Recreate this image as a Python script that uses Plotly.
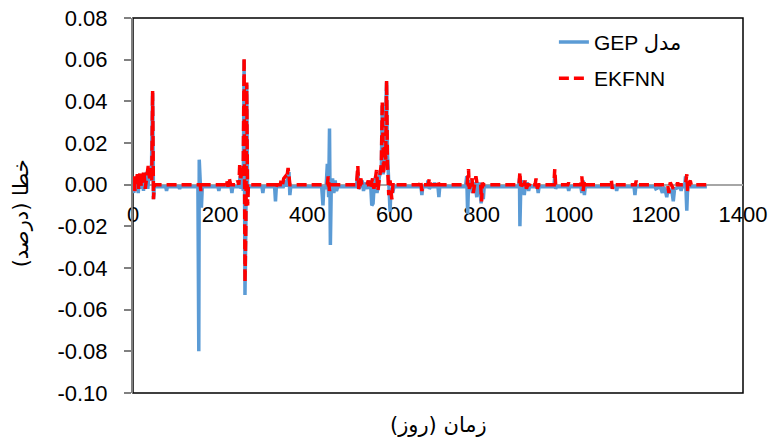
import plotly.graph_objects as go

# ---------------- data ----------------
gep_day = [0, 2, 4, 6, 9, 12, 15, 18, 21, 24, 27, 31, 34, 38, 42, 45, 47, 49, 75, 77, 79, 105, 107, 109,
           149, 151, 152, 154, 157, 159, 195, 197, 199, 225, 227, 229, 243, 246, 248, 251, 253, 255, 257,
           259, 261, 263, 265, 296, 298, 300, 325, 327, 329, 345, 349, 352, 356, 358, 360, 362, 433, 436,
           438, 443, 446, 449, 451, 453, 455, 458, 461, 464, 467, 470, 513, 516, 518, 521, 526, 529, 533,
           538, 542, 546, 548, 551, 553, 557, 560, 563, 567, 570, 572, 574, 577, 579, 582, 584, 587, 590,
           592, 596, 599, 661, 663, 665, 675, 677, 680, 683, 690, 692, 694, 700, 702, 704, 763, 766, 768,
           770, 775, 779, 782, 785, 789, 791, 795, 799, 801, 804, 806, 885, 887, 888, 890, 895, 898, 900,
           905, 908, 910, 928, 930, 932, 966, 968, 970, 972, 998, 1000, 1002, 1028, 1030, 1033, 1036, 1038,
           1108, 1110, 1112, 1150, 1152, 1154, 1198, 1200, 1210, 1215, 1218, 1222, 1225, 1228, 1232, 1236,
           1240, 1243, 1256, 1258, 1260, 1266, 1268, 1271, 1273, 1317]
gep_err = [0.000, -0.004, 0.002, -0.003, 0.003, -0.004, 0.004, -0.002, 0.005, -0.003, 0.003, 0.006, -0.002,
           0.008, 0.002, 0.044, -0.007, -0.001, -0.001, -0.003, -0.001, -0.001, -0.002, -0.001,
           -0.001, -0.080, 0.012, -0.002, -0.011, -0.001, -0.001, -0.003, -0.001, -0.001, -0.004, -0.001,
           -0.001, 0.004, -0.002, 0.008, -0.003, 0.060, -0.053,
           -0.020, 0.048, -0.006, -0.001, -0.001, -0.004, -0.001, -0.001, -0.008, -0.001, -0.001, 0.002,
           -0.001, 0.004, 0.006, -0.005, -0.001, -0.001, -0.010,
           -0.001, -0.002, 0.010, -0.006, 0.027, -0.029, -0.002, 0.003, -0.004, 0.002, -0.003, -0.001,
           -0.001, 0.006, -0.002, -0.001, 0.002, -0.003, 0.001,
           -0.002, 0.002, -0.002, -0.010, -0.009, -0.002, 0.004, -0.004, 0.002, 0.006, 0.008, 0.038, 0.005,
           0.010, 0.030, 0.049, 0.015, 0.003, -0.013,
           -0.002, -0.004, -0.001, -0.001, -0.005, -0.001, -0.001, 0.002, -0.002, -0.001, -0.001, 0.001,
           -0.001, -0.001, -0.006, -0.001, -0.001, 0.004, -0.014,
           -0.001, 0.002, -0.004, -0.001, 0.001, -0.006, -0.001, 0.001, -0.009, -0.001, -0.007, -0.001,
           -0.001, 0.003, -0.020, -0.001, 0.002, -0.005, -0.001,
           0.001, -0.003, -0.001, -0.001, -0.004, -0.001, -0.001, 0.004, -0.002, -0.001, -0.001, -0.003,
           -0.001, -0.001, -0.004, 0.002, -0.005, -0.001,
           -0.001, -0.003, -0.001, -0.001, -0.005, -0.001, -0.001, -0.002, -0.001, -0.004, -0.001, -0.003,
           -0.006, -0.002, -0.004, -0.002,
           -0.008, -0.002, -0.001, -0.003, -0.001, -0.001, 0.004, -0.0125, -0.001, -0.001]

ekf_day = [0, 2, 4, 7, 10, 13, 16, 19, 22, 25, 28, 31, 35, 38, 41, 43, 45, 47, 49, 154, 156, 158, 213,
           215, 218, 221, 224, 238, 240, 243, 245, 247, 249, 251, 253, 255, 257, 259, 261, 263, 265, 326,
           328, 330, 338, 340, 343, 346, 350, 353, 356, 358, 360, 446, 448, 451, 453, 513, 516, 518, 520,
           523, 525, 537, 540, 543, 546, 550, 553, 556, 559, 562, 565, 567, 570, 572, 575, 578, 580, 582,
           584, 587, 590, 594, 597, 600, 658, 660, 663, 666, 678, 680, 683, 698, 700, 702, 767, 770, 772,
           775, 778, 781, 784, 787, 790, 798, 800, 802, 804, 886, 888, 890, 892, 898, 900, 903, 906, 910,
           912, 914, 923, 925, 928, 931, 966, 968, 970, 998, 1000, 1002, 1028, 1030, 1033, 1036, 1039,
           1096, 1098, 1100, 1102, 1153, 1155, 1157, 1227, 1230, 1233, 1236, 1240, 1243, 1248, 1250, 1252,
           1268, 1271, 1273, 1275, 1279, 1281, 1317]
ekf_err = [0.000, 0.004, -0.003, 0.002, 0.005, -0.002, 0.006, -0.001, 0.003, 0.007, -0.002, 0.004, 0.009,
           0.003, 0.008, 0.002, 0.045, -0.007, 0.000, 0.000, -0.003, 0.000, 0.000,
           0.002, -0.001, 0.003, 0.000, 0.000, 0.002, 0.000, 0.010, 0.002, 0.006, 0.003, 0.008, 0.061,
           -0.047, -0.020, 0.049, -0.010, 0.000, 0.000,
           -0.002, 0.000, 0.000, 0.002, 0.000, 0.003, 0.004, 0.003, 0.008, 0.004, 0.000, 0.000, 0.004,
           -0.003, 0.000, 0.000, 0.009, -0.002, 0.000,
           0.003, 0.000, 0.000, 0.002, -0.002, 0.000, 0.003, -0.002, 0.002, 0.007, -0.003, 0.002, 0.005,
           0.010, 0.040, 0.005, 0.018, 0.012, 0.050,
           0.010, -0.005, 0.002, -0.007, 0.001, 0.000, 0.000, 0.002, -0.003, 0.000, 0.000, 0.003, 0.000,
           0.000, 0.002, 0.000, 0.000, 0.0075, -0.002,
           0.000, 0.003, -0.004, 0.000, 0.004, 0.000, 0.000, -0.008, 0.001, 0.000, 0.000, 0.006, -0.002,
           0.000, 0.000, 0.002, -0.002, 0.000, 0.000,
           0.001, 0.000, 0.000, 0.003, -0.002, 0.000, 0.000, 0.0075, 0.000, 0.000, 0.001, 0.000, 0.000,
           0.004, -0.003, 0.002, 0.000,
           0.000, 0.002, -0.002, 0.000, 0.000, 0.002, 0.000, 0.000, -0.004, 0.001, 0.000, -0.002, 0.000,
           0.000, 0.001, 0.000,
           0.000, 0.005, -0.003, 0.000, 0.002, 0.000, 0.000]

series_names = ["GEP مدل", "EKFNN"]
x_tick_vals = [0, 200, 400, 600, 800, 1000, 1200, 1400]
x_tick_text = ["0", "200", "400", "600", "800", "1000", "1200", "1400"]
y_tick_vals = [0.08, 0.06, 0.04, 0.02, 0.00, -0.02, -0.04, -0.06, -0.08, -0.10]
y_tick_text = ["0.08", "0.06", "0.04", "0.02", "0.00", "-0.02", "-0.04", "-0.06", "-0.08", "-0.10"]
x_range = [0, 1400]
y_range = [-0.10, 0.08]
x_title = "زمان (روز)\u200f"
y_title = "خطا (درصد)\u200f"

# ---------------- figure ----------------
FONT = "Liberation Sans, DejaVu Sans, sans-serif"

fig = go.Figure()
fig.add_trace(go.Scatter(x=gep_day, y=gep_err, mode="lines", name=series_names[0],
                         legendgroup="a",
                         line=dict(color="#5B9BD5", width=3.5)))
fig.add_trace(go.Scatter(x=ekf_day, y=ekf_err, mode="lines", name=series_names[1],
                         legendgroup="b",
                         line=dict(color="#FF0000", width=3.5, dash="10px,5px")))

zero_pos = (0 - y_range[0]) / (y_range[1] - y_range[0])

fig.update_layout(
    width=772, height=441,
    margin=dict(l=133, r=29, t=18, b=48, autoexpand=False),
    paper_bgcolor="white", plot_bgcolor="white",
    font=dict(family=FONT, size=22, color="#000"),
    showlegend=True,
    legend=dict(x=0.69, y=0.99, xanchor="left", yanchor="top",
                bgcolor="rgba(0,0,0,0)", font=dict(size=21, family=FONT),
                traceorder="grouped", tracegroupgap=6),
    xaxis=dict(range=x_range, tickvals=x_tick_vals, ticktext=x_tick_text,
               anchor="free", position=zero_pos, showline=True, linecolor="#A6A6A6",
               linewidth=1.5, ticks="", showgrid=False, zeroline=False, automargin=False,
               ticklabelstandoff=10, layer="below traces",
               tickfont=dict(size=22, family=FONT)),
    yaxis=dict(range=y_range, tickvals=y_tick_vals, ticktext=y_tick_text,
               showline=True, linecolor="#808080", linewidth=2, automargin=False,
               ticks="outside", ticklen=7, tickcolor="#808080", tickwidth=1.5,
               showgrid=False, zeroline=False, ticklabelstandoff=12,
               tickfont=dict(size=22, family=FONT)),
    shapes=[dict(type="rect", xref="paper", yref="paper", x0=0, x1=1, y0=0, y1=1,
                 line=dict(color="#000000", width=1.5), layer="below")],
    annotations=[
        dict(text=y_title, xref="paper", yref="paper", x=-0.183, y=0.48,
             textangle=-90, showarrow=False, font=dict(size=21, family="DejaVu Sans"),
             xanchor="center", yanchor="middle"),
        dict(text=x_title, xref="paper", yref="paper", x=0.5, y=-0.085,
             showarrow=False, font=dict(size=21, family="DejaVu Sans"),
             xanchor="center", yanchor="middle"),
    ],
)

fig.write_html("out.html")
